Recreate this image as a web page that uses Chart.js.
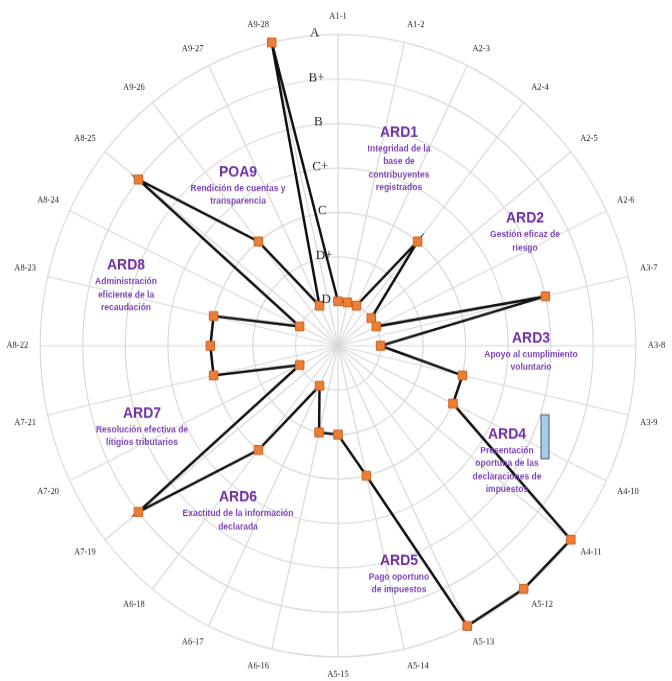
<!DOCTYPE html>
<html>
<head>
<meta charset="utf-8">
<script src="https://cdn.jsdelivr.net/npm/chart.js@4.4.0/dist/chart.umd.min.js"></script>
<style>
  html { overflow: hidden; }
  body { margin: 0; padding: 0; background: #fff; height: 681px; }
  #wrap { width: 672px; height: 652px; }
  #radar { transform: scaleY(1.0445); transform-origin: 0 0; }
</style>
</head>
<body>
<div id="wrap"><canvas id="radar"></canvas></div>
<script>
// ejes del radar (sentido horario desde arriba)
var ejes = ["A1-1", "A1-2", "A2-3", "A2-4", "A2-5", "A2-6", "A3-7", "A3-8", "A3-9", "A4-10",
            "A4-11", "A5-12", "A5-13", "A5-14", "A5-15", "A6-16", "A6-17", "A6-18", "A7-19", "A7-20",
            "A7-21", "A8-22", "A8-23", "A8-24", "A8-25", "A9-26", "A9-27", "A9-28"];
// calificacion de cada eje (1 = D ... 7 = A)
var notas = [1, 1, 1, 3, 1, 1, 5, 1, 3, 3,
             7, 7, 7, 3, 2, 2, 1, 3, 6, 1,
             3, 3, 3, 1, 6, 3, 1, 7];
var grados = ["", "D", "D+", "C", "C+", "B", "B+", "A"];

var areas = ["ARD1", "ARD2", "ARD3", "ARD4", "ARD5", "ARD6", "ARD7", "ARD8", "POA9"];
var descripciones = [
  ["Integridad de la", "base de", "contribuyentes", "registrados"],
  ["Gestión eficaz de", "riesgo"],
  ["Apoyo al cumplimiento", "voluntario"],
  ["Presentación", "oportuna de las", "declaraciones de", "impuestos"],
  ["Pago oportuno", "de impuestos"],
  ["Exactitud de la información", "declarada"],
  ["Resolución efectiva de", "litigios tributarios"],
  ["Administración", "eficiente de la", "recaudación"],
  ["Rendición de cuentas y", "transparencia"]
];

// donde va cada titulo, en pixeles respecto al centro del radar
var posAreas = [[61, -213], [187, -127], [193, -7], [169, 89], [61, 215],
                [-100, 152], [-196, 68], [-212, -80], [-100, -173]];

var S = 1.0445;

var textos = {
  id: "textos",
  afterDraw: function (chart) {
    var ctx = chart.ctx;
    var r = chart.scales.r;
    ctx.save();
    // letras de la escala
    ctx.font = "13px 'Liberation Serif'";
    ctx.fillStyle = "#222";
    ctx.textAlign = "center";
    ctx.textBaseline = "middle";
    for (var k = 1; k < grados.length; k++) {
      var d = r.getDistanceFromCenterForValue(k);
      ctx.fillText(grados[k], r.xCenter - 10 - d * 0.045, r.yCenter - d - 1.5);
    }
    // titulos de las areas
    for (var i = 0; i < areas.length; i++) {
      var x = r.xCenter + posAreas[i][0];
      var y = r.yCenter + posAreas[i][1] / S;
      ctx.fillStyle = "#7030a0";
      ctx.font = "bold 14px 'Liberation Sans'";
      ctx.fillText(areas[i], x, y);
      ctx.fillStyle = "#7d45b5";
      ctx.font = "bold 8.5px 'Liberation Sans'";
      for (var j = 0; j < descripciones[i].length; j++) {
        ctx.fillText(descripciones[i][j], x, y + (16 + 13 * j) / S);
      }
    }
    // recuadro azul
    ctx.fillStyle = "#a9cbe4";
    ctx.strokeStyle = "#41607c";
    ctx.lineWidth = 1;
    ctx.fillRect(r.xCenter + 203, r.yCenter + 69 / S, 8, 44 / S);
    ctx.strokeRect(r.xCenter + 203, r.yCenter + 69 / S, 8, 44 / S);
    ctx.restore();
  }
};

var chart = new Chart(document.getElementById("radar"), {
  type: "radar",
  data: {
    labels: ejes,
    datasets: [{
      data: notas,
      borderColor: "#111",
      borderWidth: 2.5,
      fill: false,
      pointStyle: "rect",
      pointRadius: 6,
      pointBackgroundColor: "#ec7f35",
      pointBorderColor: "#c8631f",
      pointBorderWidth: 1
    }]
  },
  options: {
    responsive: true,
    maintainAspectRatio: false,
    animation: false,
    layout: { padding: { top: 12, bottom: 0, left: 0, right: 0 } },
    plugins: { legend: { display: false }, tooltip: { enabled: false } },
    scales: {
      r: {
        min: 0,
        max: 7,
        ticks: { stepSize: 1, display: false },
        grid: { circular: true, color: "#d9d9d9", lineWidth: 1.2 },
        angleLines: { color: "#d9d9d9", lineWidth: 1.2 },
        pointLabels: {
          font: { family: "'Liberation Serif'", size: 8.5 },
          color: "#222",
          padding: 12
        }
      }
    }
  },
  plugins: [textos]
});
</script>
</body>
</html>
